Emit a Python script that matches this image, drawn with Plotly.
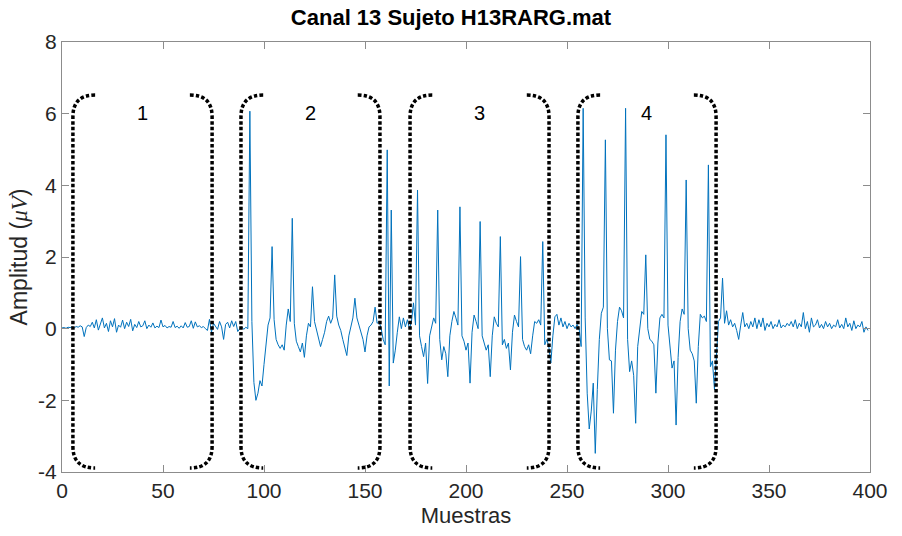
import numpy as np
import plotly.graph_objects as go

# EMG trace, channel 13 (amplitude in microvolts, one value per sample)
rest_start = [
    0.02, 0.03, 0.01, 0.04, 0.03, 0.05, 0.02, 0.06, 0.04, 0.08,
    0.05, -0.22, 0.03, 0.10, 0.06, 0.18, 0.02, 0.25, -0.04, 0.12,
    0.30, 0.02, 0.15, -0.08, 0.22, 0.05, 0.28, -0.10, 0.10, 0.04,
    0.24, 0.00, 0.18, 0.06, 0.26, -0.06, 0.12, 0.03, 0.20, 0.05,
    0.08, 0.22, 0.00, 0.10, 0.04, 0.16, 0.02, 0.07, 0.03, 0.24,
    0.05, 0.09, 0.02, 0.06, 0.04, 0.20, 0.03, 0.07, 0.01, 0.08,
    0.02, 0.17, 0.04, 0.06, 0.22, 0.01, 0.19, 0.05, 0.08, 0.03,
    0.06, 0.00, -0.05, 0.26, -0.10, 0.15, 0.08, -0.02, 0.20, 0.05,
    -0.30, 0.12, 0.18, 0.02, 0.22, 0.06, 0.20, -0.08,
]
burst_2 = [
    0.00, 0.05, -0.02, 0.04, 0.00, 6.07, 0.20, -1.50, -2.00, -1.80,
    -1.45, -1.60, -1.00, -0.40, 0.10, 0.30, 2.29, 0.25, -0.30, -0.45,
    -0.55, -0.45, -0.60, 0.10, 0.55, 0.20, 3.08, 0.15, -0.35, -0.50,
    -0.65, -0.40, -0.80, -0.20, 0.15, 0.05, 1.17, 0.20, -0.05, -0.25,
    -0.50, -0.30, -0.10, 0.20, 0.35, 0.15, 0.30, 1.50, 0.35, 0.10,
    -0.05, -0.30, -0.50, -0.75, -0.20, 0.10, 0.30, 0.85, 0.30, 0.10,
    -0.10, -0.30, -0.65, -0.20, 0.05, 0.10, 0.20, 0.60, 0.15, 0.20,
    0.00, -0.30, -0.45,
]
burst_3 = [
    4.99, -1.60, 3.31, -0.96, -0.60, -0.10, 0.33, 0.00, 0.30, 0.05,
    0.25, 0.00, 0.20, 0.72, 0.10, 3.87, -0.20, -0.50, -0.78, -0.40,
    -1.53, -0.20, 0.10, 0.30, 0.15, 3.31, -0.30, -0.87, -0.50, -0.70,
    -1.34, -0.20, 0.20, 0.48, 0.30, 0.10, 3.40, -0.20, -0.35, -0.60,
    -0.40, -1.52, -0.10, 0.38, 0.20, 0.00, 2.99, -0.20, -0.40, -0.60,
    -0.45, -1.34, -0.20, 0.33, 0.15, 0.05, 2.57, -0.45, -0.30, -0.55,
    -0.40, -1.15, -0.10, 0.38, 0.20, 0.05, 2.01, -0.30, -0.50, -0.60,
    -0.45, -0.70, -0.20, 0.20, 0.15, 0.25, 0.10, 2.43, -0.45, -0.30,
    -0.50, -0.96, -0.20, 0.33, 0.40, 0.10, 0.30, 0.05, 0.20, 0.00,
    0.15, 0.05, 0.10, 0.00, 0.12, 0.00, -0.50,
]
burst_4 = [
    6.15, 0.30, -1.80, -2.80, -2.30, -1.52, -3.48, -1.70, -0.30, 0.43,
    0.60, 5.27, 0.00, -0.87, -0.90, -2.36, -0.60, 0.20, 0.60, 0.50,
    0.30, 6.15, -0.30, -1.20, -0.90, -1.30, -2.64, -0.50, 0.00, 0.48,
    0.40, 2.06, 0.00, -0.30, -0.35, -0.45, -1.80, -0.40, 0.30, 0.40,
    0.30, 5.41, 0.10, -0.60, -1.10, -0.90, -2.69, -0.80, 0.20, 0.55,
    0.40, 4.15, 0.00, -0.60, -0.70, -0.90, -2.08, -0.50, 0.40, 0.30,
    0.35, 0.20, 4.57, -1.06, -0.90, -1.70, -0.80, 0.20, 0.30, 1.41,
    0.15, 0.50,
]
rest_end = [
    0.10, 0.25, 0.05, 0.15, -0.05, -0.30, 0.10, 0.45, 0.05, 0.15,
    0.00, 0.20, 0.05, 0.30, 0.00, 0.25, 0.05, 0.30, -0.05, 0.15,
    0.05, 0.20, 0.00, 0.12, 0.05, 0.25, 0.02, 0.10, 0.05, 0.15,
    0.08, 0.20, 0.05, 0.25, 0.00, 0.15, 0.05, 0.45, 0.00, 0.20,
    -0.10, 0.30, 0.05, 0.10, 0.25, 0.02, 0.12, 0.00, 0.20, 0.05,
    0.15, 0.00, 0.10, 0.05, 0.25, 0.02, 0.12, 0.00, 0.30, 0.05,
    0.15, -0.05, 0.22, 0.00, 0.10, 0.05, 0.20, -0.10, 0.05, -0.05,
]
signal = rest_start + burst_2 + burst_3 + burst_4 + rest_end
samples = np.arange(len(signal))

# Contraction windows (sample bounds) and their labels
window_start = [5.4, 88.6, 172.3, 255.4]
window_end = [74.3, 157.4, 241.1, 323.8]
window_labels = ["1", "2", "3", "4"]

x_ticks = [0, 50, 100, 150, 200, 250, 300, 350, 400]
y_ticks = [-4, -2, 0, 2, 4, 6, 8]
y_tick_text = ["-4", "-2", "0", "2", "4", "6", "8"]

AX_FONT = "Liberation Sans Narrow, Arial Narrow, Liberation Sans, sans-serif"

fig = go.Figure()
fig.add_trace(go.Scatter(
    x=samples, y=signal, mode="lines",
    line=dict(color="#0072BD", width=1),
    showlegend=False, hoverinfo="skip",
))

# Dotted rounded brackets around each window
top, bot = 6.52, -3.89
dx, dy = 11.0, 0.6
dot_line = dict(color="black", width=3.5, dash="3.5px,2.2px")
for xs, xe, lab in zip(window_start, window_end, window_labels):
    left = (f"M {xs + dx},{top} Q {xs},{top} {xs},{top - dy} "
            f"L {xs},{bot + dy} Q {xs},{bot} {xs + dx},{bot}")
    right = (f"M {xe - dx},{top} Q {xe},{top} {xe},{top - dy} "
             f"L {xe},{bot + dy} Q {xe},{bot} {xe - dx},{bot}")
    for p in (left, right):
        fig.add_shape(type="path", path=p, xref="x", yref="y",
                      line=dot_line, layer="above")
    fig.add_annotation(x=(xs + xe) / 2, y=6.02, text=lab, showarrow=False,
                       xref="x", yref="y",
                       font=dict(family="Liberation Sans, Arial, sans-serif",
                                 size=20, color="black"))

axis_common = dict(
    showline=True, linecolor="#8c8c8c", linewidth=1, mirror="ticks",
    ticks="inside", ticklen=7, tickcolor="#8c8c8c", showgrid=False,
    zeroline=False, tickfont=dict(family=AX_FONT, size=21, color="#262626"),
)
fig.update_xaxes(range=[0, 400], tickvals=x_ticks,
                 title=dict(text="Muestras", standoff=6,
                            font=dict(family=AX_FONT, size=22, color="#262626")),
                 **axis_common)
fig.update_yaxes(range=[-4, 8], tickvals=y_ticks, ticktext=y_tick_text,
                 title=dict(text="Amplitud (<i><span style='font-family:Liberation Serif'>μV</span></i>)",
                            standoff=4,
                            font=dict(family=AX_FONT, size=23, color="#262626")),
                 **axis_common)

fig.update_layout(
    width=902, height=536,
    margin=dict(l=62, r=32, t=42, b=64),
    paper_bgcolor="white", plot_bgcolor="white",
    title=dict(text="<b>Canal 13 Sujeto H13RARG.mat</b>", x=0.5, xanchor="center",
               y=1 - 17 / 536, yref="container", yanchor="middle",
               font=dict(family=AX_FONT, size=22, color="black")),
)

fig.write_html("out.html")
